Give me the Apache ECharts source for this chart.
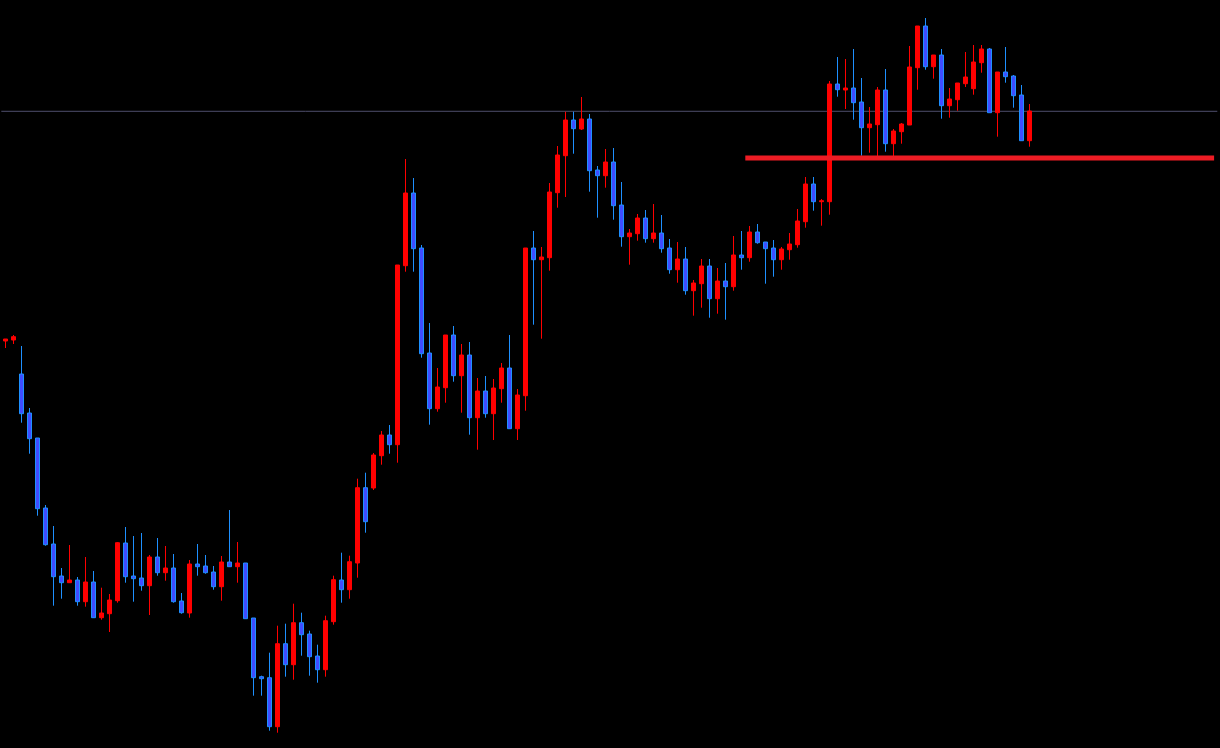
<!DOCTYPE html>
<html>
<head>
<meta charset="utf-8">
<script src="https://cdn.jsdelivr.net/npm/echarts/dist/echarts.min.js"></script>
<style>
html,body{margin:0;padding:0;background:#000;}
#chart{width:1220px;height:748px;}
</style>
</head>
<body>
<div id="chart"></div>
<script>
// Price values (arbitrary units)
const opens = [407,408,374,335,310,240,204,172,165.3,168,
146.3,166,130.3,134.3,147.3,205,172,170,162.3,191,
175.3,180,147,135,184,182,176,161.3,186,181.3,
185,130,71.3,70.3,21.3,104.3,83.3,125.3,114,92,
78.3,126.3,168,158.3,185,260.3,260,292.3,313,303.3,
482.3,555,500,395,339.3,360.3,413,372.3,393,330.3,
357,334.3,359.3,380,319.3,352.3,500,488.3,490.3,555.3,
592.3,628,619,629,578,572.3,586,543,511.3,514.3,
530,509.3,515,500,478.3,489,457.3,464.3,482,449.3,
467,461.3,493,490.3,516,506,500,488.3,498.3,503.3,
526.3,564,546.3,546.3,664,658,660,646,620.3,623.3,
658,604.3,616.3,623,680.3,722,681.3,693,642.3,648.3,
664.3,659.3,685.3,699,635.3,676,672,653,607.3];
const closes = [409,411.3,334.3,309.3,239.3,203.3,171.3,165.3,168,146.3,
166,130.3,135,148,205.3,171.3,169.3,162.3,191,175.3,
180,146.3,135.3,184,181.3,175.3,161.3,186,181.3,185,
129.3,70.3,69.3,21.3,104.3,83.3,125.3,113.3,91.3,78.3,
127.3,168.3,158.3,186.3,260.3,226.3,293,313,303.3,483,
555,499.3,394.3,339.3,361,413,372.3,393,330.3,357,
334.3,360,380,319.3,353,500,488.3,491,556,593,
628,619.3,629,577.3,572.3,586,542.3,511.3,515,530,
509.3,515,499.3,478.3,489,457.3,465,482,449.3,467,
461.3,493,490.3,516,505.3,499.3,488.3,499,504,527,
564,546.3,547.3,664,658.3,660,645.3,620.3,624,658,
604.3,617,624,681,722,681.3,693,642.3,649,665,
671,686,699,635.3,676,671.3,652.3,607.3,637];
const lows = [400,404,325.3,294.3,232.3,202.3,142.3,149.3,165.3,142.3,
141.3,130,128.3,116,145.3,165.3,146.3,157.3,133,172.3,
167.3,145.3,134.3,130.3,172.3,174.3,158.3,147.3,181.3,165.3,
129.3,52.3,52.3,17.3,15.3,71.3,68.3,92.3,72.3,65.3,
71.3,123.3,145.3,149.3,170.3,215.3,258,283.3,294.3,285.3,
476.3,476.3,390.3,323.3,336.3,345.3,366.3,335.3,313.3,298.3,
330.3,308,345.3,319.3,308,337.3,423.3,409.3,477.3,540.3,
551,594.3,618,556.3,530.3,560.3,528.3,501.3,483.3,507.3,
505.3,505.3,495.3,474.3,465.3,453.3,432.3,440.3,430.3,434.3,
428.3,457.3,478.3,486.3,504.3,464.3,471.3,478.3,488.3,500.3,
520.3,537.3,522.3,533.3,651.3,639,628.3,592.3,595.3,591,
596.3,592,604.3,623,658.3,678.3,669.3,629.3,630.3,637.3,
661,653.3,675.3,635.3,611.3,665.3,640.3,607.3,601.3];
const highs = [409,413,402,340,310,243,222,180,203,171,
191,177,160.3,154,206,221,212,215,193,210,
202,194,155,188,204,193,182,192,238,206,
185,130,72.3,95.3,122.3,124.3,144.3,135.3,117.3,103.3,
132.3,172.3,195.3,192.3,269.3,275.3,295,317,323,483,
589,570,503,425,380,413,422,404,406,370,
372,369,385,413,359,500,517,501,565,602,
636.3,636.3,651,634,582,599,600,566,519,534,
538,544,533,509,506,501,468,489,489,480,
485,512,517,522,524,506,508,501,515,539,
571,571,549,667,691,689,699,670,641,661,
679,619,625,702,722,730,693,699,660,665,
696,703,703,700,676,701,673,663,644];

// Horizontal levels
const resistanceLevel = 636.7;   // thin grey line
const supportLevel = 590;        // thick red line
const supportFrom = 92.5;        // bar index where red line starts
const supportTo = 151.1;         // bar index where red line ends

const totalSlots = 152;
const categories = Array.from({length: totalSlots}, (_, i) => 'B' + (i + 1));

const candleData = opens.map((o, i) => [o, closes[i], lows[i], highs[i]]);

const chart = echarts.init(document.getElementById('chart'), null, {renderer: 'canvas'});
chart.setOption({
  backgroundColor: '#000000',
  animation: false,
  grid: {left: 1.3, top: 0, width: 1216, height: 748, containLabel: false},
  xAxis: [
    {type: 'category', data: categories, boundaryGap: true, show: false},
    {type: 'value', min: -0.5, max: totalSlots - 0.5, show: false}
  ],
  yAxis: {type: 'value', min: 0, max: 748, show: false, splitLine: {show: false}},
  series: [
    {
      type: 'line', xAxisIndex: 1, z: 1, symbol: 'none', silent: true,
      data: [[-0.5, resistanceLevel], [totalSlots - 0.5, resistanceLevel]],
      lineStyle: {color: '#4e4e6c', width: 1}
    },
    {
      type: 'candlestick', xAxisIndex: 0, z: 2,
      barWidth: 4,
      data: candleData,
      itemStyle: {
        color: '#ff0000', borderColor: '#ff0000',
        color0: '#3f4cff', borderColor0: '#1e90ff',
        borderWidth: 1
      }
    },
    {
      type: 'line', xAxisIndex: 1, z: 3, symbol: 'none', silent: true,
      data: [[supportFrom, supportLevel], [supportTo, supportLevel]],
      lineStyle: {color: '#ed1c24', width: 5, cap: 'butt'}
    }
  ]
});
</script>
</body>
</html>
